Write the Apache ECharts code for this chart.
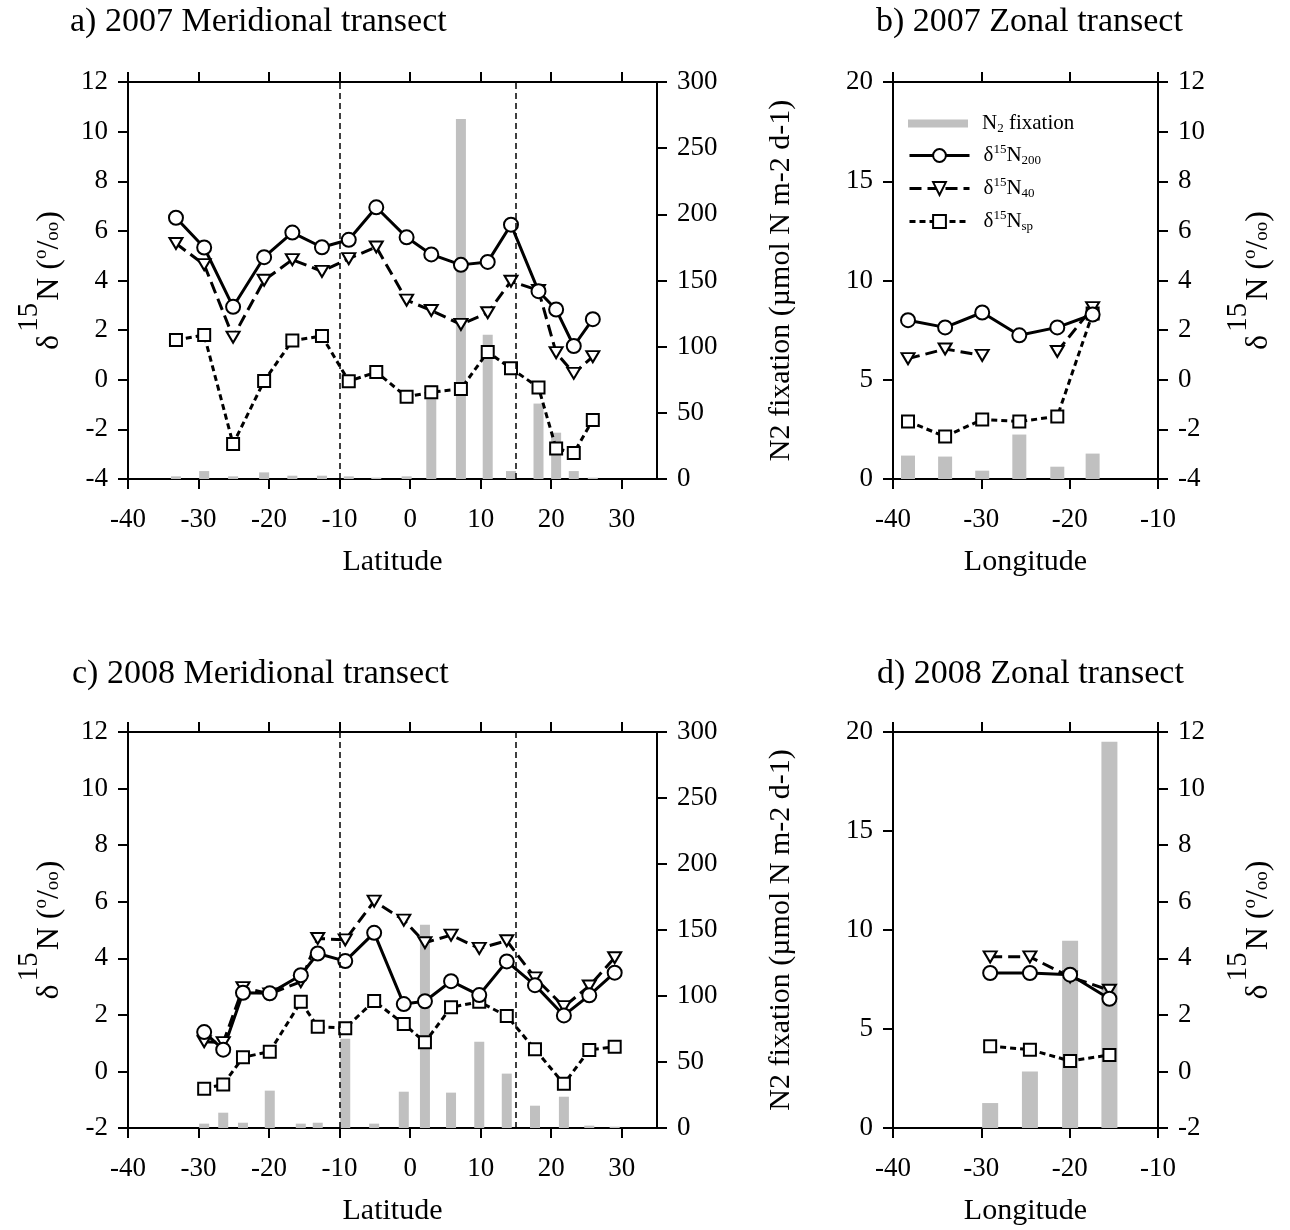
<!DOCTYPE html>
<html><head><meta charset="utf-8">
<script src="https://cdn.jsdelivr.net/npm/echarts@6/dist/echarts.min.js"></script>
<style>html,body{margin:0;padding:0;background:#fff}#c{width:1290px;height:1230px}</style>
</head><body><div id="c"></div>
<script>
const FONT = "'Liberation Serif','Times New Roman',serif";

// ---- Panel a: 2007 meridional transect ----
const latA  = [-33.2,-29.2,-25.1,-20.7,-16.7,-12.5,-8.7,-4.8,-0.5,3.0,7.2,11.0,14.3,18.2,20.7,23.2,25.9];
const d200A = [6.53,5.33,2.94,4.94,5.93,5.34,5.64,6.95,5.74,5.05,4.63,4.75,6.25,3.57,2.83,1.36,2.44];
const d40A  = [5.49,4.64,1.72,4.01,4.84,4.37,4.88,5.35,3.21,2.79,2.23,2.70,3.97,3.60,1.09,0.26,0.93];
const dspA  = [1.60,1.80,-2.59,-0.05,1.58,1.76,-0.06,0.31,-0.69,-0.50,-0.37,1.12,0.46,-0.31,-2.77,-2.95,-1.62];
const n2A   = [2,6,2,5,2.5,2.5,2,1,2,71,272,109,6,57,35,6,1];

// ---- Panel b: 2007 zonal transect ----
const lonB  = [-38.3,-34.1,-29.9,-25.7,-21.4,-17.4];
const d200B = [2.40,2.11,2.71,1.79,2.11,2.63];
const d40B  = [0.85,1.24,0.98,null,1.14,2.91];
const dspB  = [-1.68,-2.29,-1.60,-1.68,-1.48,2.67];
const n2B   = [1.18,1.13,0.42,2.24,0.62,1.28];

// ---- Panel c: 2008 meridional transect ----
const latC  = [-29.2,-26.5,-23.7,-19.9,-15.5,-13.1,-9.2,-5.1,-0.9,2.1,5.8,9.8,13.7,17.7,21.8,25.4,29.0];
const d200C = [1.39,0.77,2.78,2.76,3.40,4.17,3.90,4.90,2.38,2.48,3.19,2.70,3.89,3.05,1.98,2.69,3.49];
const d40C  = [1.05,1.02,2.96,2.74,3.17,4.70,4.65,6.02,5.35,4.55,4.82,4.35,4.62,3.31,2.29,3.02,4.02];
const dspC  = [-0.61,-0.46,0.50,0.70,2.46,1.58,1.53,2.49,1.68,1.03,2.27,2.46,1.96,0.78,-0.44,0.76,0.87];
const n2C   = [3.3,11.6,4,28.3,3.3,4,67.7,3.3,27.5,154,26.8,65.4,41.2,16.9,23.7,1.8,1];

// ---- Panel d: 2008 zonal transect ----
const lonD  = [-29.0,-24.5,-19.95,-15.5];
const d200D = [3.48,3.48,3.42,2.57];
const d40D  = [4.05,4.05,3.34,2.87];
const dspD  = [0.89,0.77,0.37,0.58];
const n2D   = [1.26,2.85,9.46,19.51];

// ---- tick labels ----
const latTicks = [-40,-30,-20,-10,0,10,20,30];
const lonTicks = [-40,-30,-20,-10];
const frontLines = [-10,15];

const titles = ['a) 2007 Meridional transect','b) 2007 Zonal transect','c) 2008 Meridional transect','d) 2008 Zonal transect'];

// ---- layout ----
const grids = [
  {left:128, top:82,  width:529, height:397},
  {left:893, top:82,  width:265, height:397},
  {left:128, top:732, width:529, height:396},
  {left:893, top:732, width:265, height:396}
];

const AX = {color:'#000', width:2};
const labelStyle = {fontFamily:FONT, fontSize:27, color:'#000'};
const dRich = {
  m:{fontFamily:FONT, fontSize:32, color:'#000'},
  s:{fontFamily:FONT, fontSize:29, color:'#000', padding:[0,2,40,3]},
  o:{fontFamily:FONT, fontSize:19, color:'#000', padding:[0,0,16,0]},
  u:{fontFamily:FONT, fontSize:19, color:'#000', padding:[8,0,0,0]}
};
const dName = '{m|δ}{s|15}{m|N (}{o|o}{m|/}{u|oo}{m|)}';
const n2Name = 'N2 fixation (µmol N m-2 d-1)';

function xAxes(g, min, max, ticks, name){
  const base = {gridIndex:g, type:'value', min:min, max:max, interval:10, splitLine:{show:false},
    axisLine:{show:true, onZero:false, lineStyle:AX}};
  return [
    Object.assign({}, base, {position:'bottom',
      axisTick:{show:true, length:10, lineStyle:AX, customValues:ticks},
      axisLabel:{show:true, margin:27, customValues:ticks, ...labelStyle},
      name:name, nameLocation:'middle', nameGap:68,
      nameTextStyle:{fontFamily:FONT, fontSize:30, color:'#000'}}),
    Object.assign({}, base, {position:'top',
      axisTick:{show:true, length:10, lineStyle:AX, customValues:ticks},
      axisLabel:{show:false}})
  ];
}
function yAxis(g, pos, min, max, interval, name, gap, rich){
  const o = {gridIndex:g, type:'value', position:pos, min:min, max:max, interval:interval,
    splitLine:{show:false}, axisLine:{show:true, onZero:false, lineStyle:AX},
    axisTick:{show:true, length:10, lineStyle:AX},
    axisLabel:{show:true, margin:20, ...labelStyle}};
  if (name){
    o.name = name; o.nameLocation='middle'; o.nameRotate=90; o.nameGap=gap;
    o.nameTextStyle = {fontFamily:FONT, fontSize:30, color:'#000'};
    if (rich) o.nameTextStyle.rich = rich;
  }
  return o;
}

const xAxis = [].concat(
  xAxes(0,-40,35,latTicks,'Latitude'),
  xAxes(1,-40,-10,lonTicks,'Longitude'),
  xAxes(2,-40,35,latTicks,'Latitude'),
  xAxes(3,-40,-10,lonTicks,'Longitude')
);
const yAxisList = [
  yAxis(0,'left',-4,12,2,dName,44,dRich),
  yAxis(0,'right',0,300,50,n2Name,109),
  yAxis(1,'left',0,20,5),
  yAxis(1,'right',-4,12,2,dName,66,dRich),
  yAxis(2,'left',-2,12,2,dName,44,dRich),
  yAxis(2,'right',0,300,50,n2Name,109),
  yAxis(3,'left',0,20,5),
  yAxis(3,'right',-2,12,2,dName,66,dRich)
];

const STY = {
  d200:{name:'δ15N200', symbol:'circle', size:14, dash:'solid'},
  d40:{name:'δ15N40', symbol:'path://M0,0L12,0L6,10Z', size:[13,11], dash:[12,6]},
  dsp:{name:'δ15Nsp', symbol:'rect', size:12, dash:[6,4]}
};
function pairs(x,y){ return x.map((v,i)=>[v, y[i]==null ? '-' : y[i]]); }
function lineS(kind, x, y, xi, yi){
  const st = STY[kind];
  return {type:'line', name:st.name, xAxisIndex:xi, yAxisIndex:yi, data:pairs(x,y),
    symbol:st.symbol, symbolSize:st.size, showSymbol:true, connectNulls:false, z:3,
    lineStyle:{color:'#000', width:3, type:st.dash},
    itemStyle:{color:'#fff', borderColor:'#000', borderWidth:2},
    emphasis:{disabled:true}};
}
function barS(x, y, xi, yi, w, marks){
  const s = {type:'bar', name:'N2 fixation', xAxisIndex:xi, yAxisIndex:yi, data:pairs(x,y),
    barWidth:w, itemStyle:{color:'#c0c0c0'}, z:1, emphasis:{disabled:true}};
  if (marks){
    s.markLine = {silent:true, symbol:['none','none'], label:{show:false},
      lineStyle:{color:'#000', width:1.5, type:[6,4]},
      data: marks.map(v=>({xAxis:v}))};
  }
  return s;
}

const series = [
  barS(latA,n2A,0,1,10,frontLines),
  lineS('dsp',latA,dspA,0,0), lineS('d40',latA,d40A,0,0), lineS('d200',latA,d200A,0,0),
  barS(lonB,n2B,2,2,14),
  lineS('dsp',lonB,dspB,2,3), lineS('d40',lonB,d40B,2,3), lineS('d200',lonB,d200B,2,3),
  barS(latC,n2C,4,5,10,frontLines),
  lineS('dsp',latC,dspC,4,4), lineS('d40',latC,d40C,4,4), lineS('d200',latC,d200C,4,4),
  barS(lonD,n2D,6,6,16),
  lineS('dsp',lonD,dspD,6,7), lineS('d40',lonD,d40D,6,7), lineS('d200',lonD,d200D,6,7)
];

const legRich = {
  m:{fontFamily:FONT, fontSize:21, color:'#000', padding:[0,0,0,0]},
  f:{fontFamily:FONT, fontSize:21, color:'#000', padding:[0,0,0,9]},
  s:{fontFamily:FONT, fontSize:13, color:'#000', padding:[0,0,12,0]},
  b:{fontFamily:FONT, fontSize:13, color:'#000', padding:[10,0,0,0]}
};
const legText = {
  'N2 fixation':'{f|N}{b|2}{m| fixation}',
  'δ15N200':'{f|δ}{s|15}{m|N}{b|200}',
  'δ15N40':'{f|δ}{s|15}{m|N}{b|40}',
  'δ15Nsp':'{f|δ}{s|15}{m|N}{b|sp}'
};

const option = {
  animation:false,
  backgroundColor:'#fff',
  title: titles.map((t,i)=>({text:t, left:[70,876,72,877][i], top:[5,5,657,657][i], padding:0,
    textStyle:{fontFamily:FONT, fontSize:34, fontWeight:'normal', color:'#000'}})),
  grid: grids,
  legend:[
    {data:[{name:'N2 fixation', icon:'rect'}], left:908, top:113, orient:'vertical', padding:0,
     itemWidth:60, itemHeight:8, selectedMode:false,
     formatter:n=>legText[n], textStyle:{fontFamily:FONT, fontSize:21, color:'#000', rich:legRich}},
    {data:['δ15N200','δ15N40','δ15Nsp'], left:908, top:143, orient:'vertical', padding:0,
     itemWidth:60, itemHeight:16, itemGap:9, selectedMode:false,
     lineStyle:{width:3},
     formatter:n=>legText[n], textStyle:{fontFamily:FONT, fontSize:21, color:'#000', rich:legRich}}
  ],
  xAxis: xAxis,
  yAxis: yAxisList,
  series: series
};
const chart = echarts.init(document.getElementById('c'), null, {renderer:'canvas'});
chart.setOption(option);
</script>
</body></html>
